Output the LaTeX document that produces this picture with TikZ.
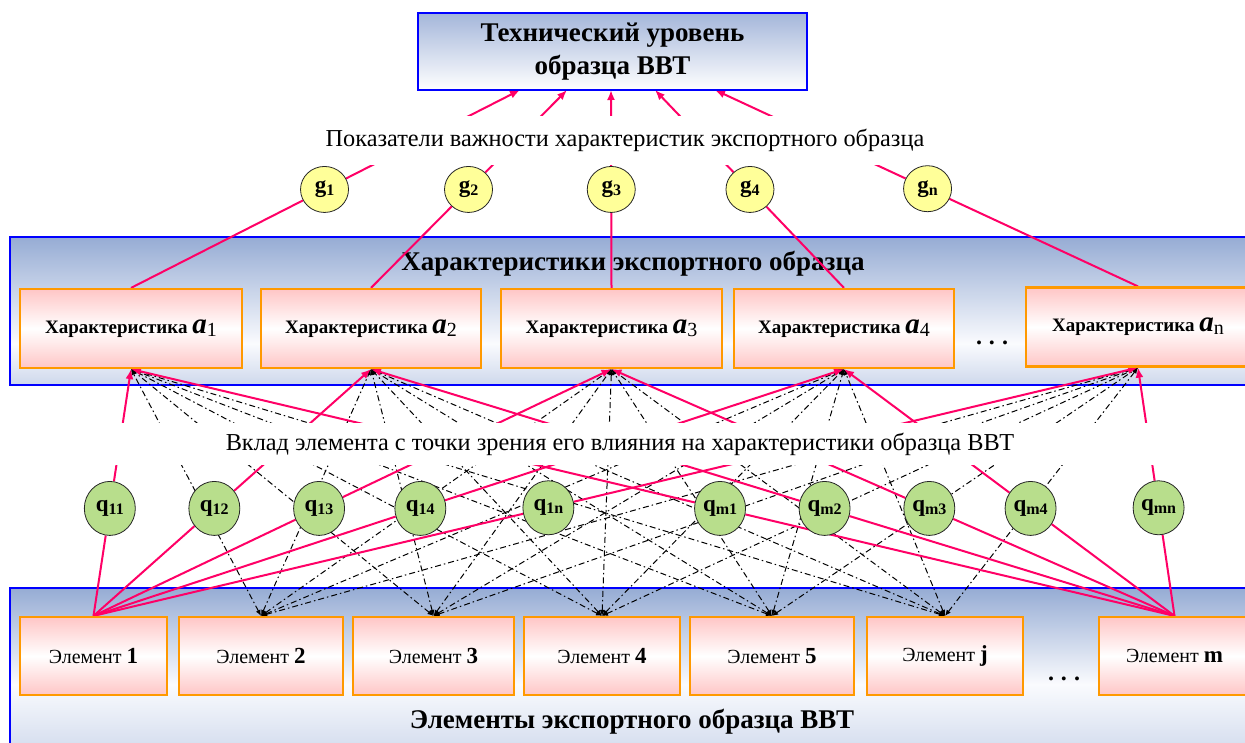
\documentclass[tikz,border=0pt]{standalone}
\usepackage{fontspec}
\setmainfont{Liberation Serif}
\usetikzlibrary{calc,arrows.meta,shapes.geometric}

\definecolor{frameblue}{RGB}{0,0,255}
\definecolor{frameorange}{RGB}{255,153,0}
\definecolor{boxpink}{RGB}{255,198,198}
\definecolor{linkpink}{RGB}{255,0,102}
\definecolor{gyellow}{RGB}{255,255,153}
\definecolor{qgreen}{RGB}{184,222,140}
\definecolor{paneltop}{RGB}{150,172,212}
\definecolor{panelmid}{RGB}{250,251,254}
\definecolor{panelbot}{RGB}{206,216,236}
\definecolor{titletop}{RGB}{164,182,218}

% vertical shadings of the two wide panels (white band below the middle)
\pgfdeclareverticalshading{charpanelshade}{100bp}{color(0bp)=(panelbot); color(25bp)=(panelbot); color(39bp)=(panelmid); color(75bp)=(paneltop); color(100bp)=(paneltop)}
\pgfdeclareverticalshading{elempanelshade}{100bp}{color(0bp)=(panelbot); color(25bp)=(panelbot); color(47bp)=(panelmid); color(75bp)=(paneltop); color(100bp)=(paneltop)}

\pgfdeclarelayer{back}
\pgfdeclarelayer{links}
\pgfdeclarelayer{bands}
\pgfsetlayers{back,links,bands,main}

\newcommand{\lowsub}[2]{\raisebox{-#1}{#2}}
\newcommand{\charlabel}[1]{{\fontsize{19}{22}\selectfont\bfseries Характеристика }{\fontsize{29}{30}\selectfont\bfseries\itshape a}\lowsub{3pt}{\fontsize{20}{20}\selectfont #1}}
\newcommand{\elemlabel}[1]{{\fontsize{20}{22}\selectfont Элемент }{\fontsize{23}{23}\selectfont\bfseries #1}}
\newcommand{\weightlabel}[2]{{\fontsize{23}{23}\selectfont\bfseries #1}\lowsub{3pt}{\fontsize{16}{16}\selectfont\bfseries #2}}

\tikzset{
  panel/.style={draw=frameblue, line width=2pt, inner sep=0pt},
  techbox/.style={draw=frameblue, line width=2.4pt, top color=titletop, bottom color=white, inner sep=0pt, align=center,
    font=\fontsize{27}{33}\selectfont\bfseries},
  charbox/.style={draw=frameorange, line width=2.2pt, top color=boxpink, bottom color=boxpink, middle color=white,
    minimum height=79pt, inner sep=0pt},
  elembox/.style={draw=frameorange, line width=2.2pt, top color=boxpink, bottom color=boxpink, middle color=white,
    minimum height=78pt, inner sep=0pt},
  gnode/.style={ellipse, draw=black!85, line width=0.8pt, fill=gyellow, minimum width=48pt, minimum height=46pt, inner sep=0pt},
  qnode/.style={ellipse, draw=black!85, line width=0.8pt, fill=qgreen, minimum width=51pt, minimum height=54pt, inner sep=0pt},
  pinklink/.style={draw=linkpink, line width=2pt},
  pinkarrow/.style={pinklink, -{Latex[length=10pt,width=8pt]}},
  dashlink/.style={draw=black, line width=1pt, dash pattern=on 6pt off 3pt on 1.5pt off 3pt,
    {Latex[length=6pt,width=5pt]}-{Latex[length=6pt,width=5pt]}},
  banner/.style={fill=white, inner sep=0pt, font=\fontsize{24.3}{28}\selectfont},
  paneltitle/.style={inner sep=0pt, font=\fontsize{27}{33}\selectfont\bfseries},
  ellipsis/.style={inner sep=0pt, font=\fontsize{24}{24}\selectfont\bfseries},
}

\begin{document}
\begin{tikzpicture}[x=1pt,y=-1pt]
\clip (0,0) rectangle (1245,742);

% wide panels with their titles
\begin{pgfonlayer}{back}
  \fill[white] (0,0) rectangle (1245,742);
  \node[panel, shading=charpanelshade, minimum width=1252pt, minimum height=148pt] (charpanel) at (636,311) {};
  \node[paneltitle] (chartitle) at (633,264) {Характеристики экспортного образца};
  \node[panel, shading=elempanelshade, minimum width=1252pt, minimum height=172pt] (elempanel) at (636,674) {};
  \node[paneltitle] (elemtitle) at (632,722) {Элементы экспортного образца ВВТ};
\end{pgfonlayer}

% top-level box
\node[techbox, minimum width=389pt, minimum height=77pt] (tech) at (612.5,51.5) {Технический уровень\\образца ВВТ};
\coordinate (t1) at (520,90);
\coordinate (t2) at (567,90);
\coordinate (t3) at (611,90);
\coordinate (t4) at (655,90);
\coordinate (t5) at (715,90);

% characteristics
\node[charbox, minimum width=222pt] (a1) at (131,328.5) {\charlabel{1}};
\node[charbox, minimum width=220pt] (a2) at (371,328.5) {\charlabel{2}};
\node[charbox, minimum width=221pt] (a3) at (611.5,328.5) {\charlabel{3}};
\node[charbox, minimum width=220pt] (a4) at (844,328.5) {\charlabel{4}};
\node[charbox, minimum width=224pt] (an) at (1138,327) {\charlabel{n}};
\node[ellipsis] (chardots) at (992,343) {.\hspace{7pt}.\hspace{7pt}.};

% elements
\node[elembox, minimum width=147pt] (E1) at (93.5,656) {\elemlabel{1}};
\node[elembox, minimum width=164pt] (E2) at (261,656) {\elemlabel{2}};
\node[elembox, minimum width=161pt] (E3) at (433.5,656) {\elemlabel{3}};
\node[elembox, minimum width=156pt] (E4) at (602,656) {\elemlabel{4}};
\node[elembox, minimum width=164pt] (E5) at (772,656) {\elemlabel{5}};
\node[elembox, minimum width=156pt] (Ej) at (945,656) {\elemlabel{j}};
\node[elembox, minimum width=151pt] (Em) at (1174.5,656) {\elemlabel{m}};
\node[ellipsis] (elemdots) at (1064,679) {.\hspace{7pt}.\hspace{7pt}.};

% importance weights g
\node[gnode] (g1) at ($(a1.north)!0.4975!(t1)$) {\weightlabel{g}{1}};
\node[gnode] (g2) at ($(a2.north)!0.4975!(t2)$) {\weightlabel{g}{2}};
\node[gnode] (g3) at ($(a3.north)!0.4975!(t3)$) {\weightlabel{g}{3}};
\node[gnode] (g4) at ($(a4.north)!0.4975!(t4)$) {\weightlabel{g}{4}};
\node[gnode] (gn) at ($(an.north)!0.4975!(t5)$) {\weightlabel{g}{n}};

% contribution weights q
\foreach \k/\a in {11/a1,12/a2,13/a3,14/a4,1n/an}
  \node[qnode] (q\k) at ($(E1.north)!0.4355!(\a.south)$) {\weightlabel{q}{\k}};
\foreach \k/\a in {m1/a1,m2/a2,m3/a3,m4/a4,mn/an}
  \node[qnode] (q\k) at ($(Em.north)!0.4355!(\a.south)$) {\weightlabel{q}{\k}};

% connectors
\begin{pgfonlayer}{links}
  \foreach \e in {E2,E3,E4,E5,Ej}
    \foreach \a in {a1,a2,a3,a4,an}
      \draw[dashlink] (\e.north) -- (\a.south);
  \foreach \k/\a in {11/a1,12/a2,13/a3,14/a4,1n/an} {
    \draw[pinklink] (E1.north) -- (q\k);
    \draw[pinkarrow] (q\k) -- (\a.south);
  }
  \foreach \k/\a in {m1/a1,m2/a2,m3/a3,m4/a4,mn/an} {
    \draw[pinklink] (Em.north) -- (q\k);
    \draw[pinkarrow] (q\k) -- (\a.south);
  }
  \foreach \k/\a/\t in {1/a1/t1,2/a2/t2,3/a3/t3,4/a4/t4,n/an/t5} {
    \draw[pinklink] (\a.north) -- (g\k);
    \draw[pinkarrow] (g\k) -- (\t);
  }
\end{pgfonlayer}

% captions on white bands across the connectors
\begin{pgfonlayer}{bands}
  \node[banner, minimum width=640pt, minimum height=49pt] (imptitle) at (625,140) {Показатели важности характеристик экспортного образца};
  \node[banner, minimum width=1080pt, minimum height=42pt] (contribtitle) at (620,444) {Вклад элемента с точки зрения его влияния на характеристики образца ВВТ};
\end{pgfonlayer}
\end{tikzpicture}
\end{document}
